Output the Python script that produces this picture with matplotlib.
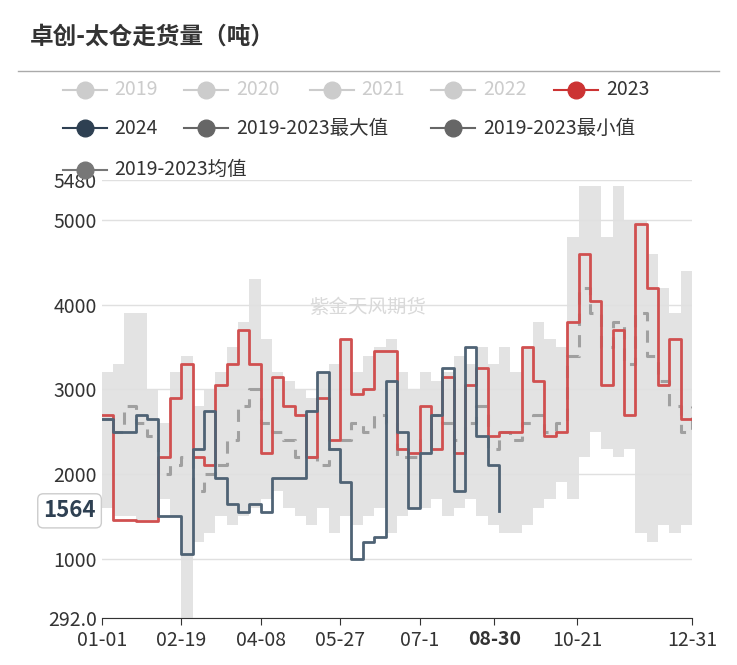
import matplotlib
matplotlib.use("Agg")
import matplotlib.pyplot as plt
import numpy as np

plt.rcParams["font.family"] = ["Noto Sans CJK SC"]

title = "卓创-太仓走货量（吨）"
tick_labels = ["01-01", "02-19", "04-08", "05-27", "07-1", "08-30", "10-21", "12-31"]
tick_days = [0, 49, 98, 147, 196, 242, 293, 364]
y_ticks = [292.0, 1000, 2000, 3000, 4000, 5000, 5480]

s2023 = [2700, 1450, 1450, 1440, 1440, 2200, 2900, 3300, 2200, 2100, 3050, 3300, 3700, 3300,
         2250, 3150, 2800, 2700, 2200, 2900, 2400, 3600, 2950, 3000, 3450, 3450, 2300, 2250,
         2800, 2300, 3150, 2250, 3050, 3250, 2450, 2500, 2500, 3500, 3100, 2450, 2500, 3800,
         4600, 4050, 3050, 3700, 2700, 4950, 4200, 3050, 3600, 2650, 2650]
s2024 = [2650, 2500, 2500, 2700, 2650, 1500, 1500, 1050, 2300, 2750, 1950, 1650, 1550, 1650,
         1550, 1950, 1950, 1950, 2750, 3200, 2300, 1900, 1000, 1200, 1250, 3100, 2500, 1600,
         2250, 2700, 3250, 1800, 3500, 2450, 2100, 1564]
smax = [3200, 3300, 3900, 3900, 3000, 2600, 3200, 3400, 2800, 3000, 3200, 3500, 3800, 4300,
        3600, 3200, 3100, 3000, 2900, 3200, 3300, 3600, 3200, 3400, 3500, 3600, 3200, 3000,
        3200, 3100, 3200, 3400, 3300, 3500, 3300, 3500, 3200, 3500, 3800, 3600, 3500, 4800,
        5400, 5400, 4800, 5400, 5000, 5000, 4600, 4200, 3900, 4400, 3900]
smin = [1600, 1500, 1500, 1450, 1450, 1700, 1500, 300, 1200, 1300, 1500, 1400, 1500, 1600,
        1700, 1800, 1600, 1500, 1400, 1600, 1300, 1500, 1400, 1500, 1600, 1300, 1500, 1600,
        1600, 1700, 1500, 1600, 1700, 1500, 1400, 1300, 1300, 1400, 1600, 1700, 1900, 1700,
        2200, 2500, 2300, 2200, 2300, 1300, 1200, 1400, 1300, 1400, 1300]
smean = [2650, 2500, 2800, 2600, 2450, 2000, 2100, 2200, 1800, 2000, 2100, 2400, 2800, 3000,
         2600, 2500, 2400, 2200, 2200, 2100, 2300, 2400, 2600, 2500, 2700, 2600, 2200, 2200,
         2400, 2700, 2600, 2400, 2600, 2800, 2300, 2500, 2400, 2600, 2700, 2500, 2600, 3400,
         4200, 3900, 3500, 3800, 3300, 3900, 3400, 3100, 2800, 2500, 2800]

days = np.arange(len(s2023)) * 7
d24 = np.arange(len(s2024)) * 7

fig = plt.figure(figsize=(7.37, 6.65), dpi=100)
ax = fig.add_axes([0.138, 0.07, 0.801, 0.66])
ax.fill_between(days, smin, smax, step="post", color="#e3e3e3", lw=0)
ax.step(days, smean, where="post", color="#a0a0a0", lw=2.2, ls=(0, (4, 3)))
ax.step(days, s2023, where="post", color="#d05050", lw=2, solid_joinstyle="round")
ax.step(d24, s2024, where="post", color="#4f6375", lw=2, solid_joinstyle="round")

ax.set_xlim(0, 364)
ax.set_ylim(292, 5480)
ax.set_yticks(y_ticks)
ax.set_yticklabels(["292.0", "1000", "2000", "3000", "4000", "5000", "5480"])
ax.set_xticks(tick_days)
ax.set_xticklabels(tick_labels)
for t in ax.get_xticklabels():
    if t.get_text() == "08-30":
        t.set_fontweight("bold"); t.set_color("#2e4052"); t.set_fontsize(17)
        t.set_bbox(dict(fc="white", ec="none", pad=1))
ax.tick_params(axis="both", labelsize=14, colors="#333333", length=5)
ax.tick_params(axis="y", length=0)
ax.grid(axis="y", color="#e0e0e0", lw=1)
for s in ["top", "right", "left"]:
    ax.spines[s].set_visible(False)
ax.spines["bottom"].set_color("#333333")
ax.text(-0.01, 1564, "1564", transform=ax.get_yaxis_transform(), ha="right", va="center",
        fontsize=16, fontweight="bold", color="#2e4052",
        bbox=dict(boxstyle="round,pad=0.25", fc="white", ec="#cccccc"))
ax.text(0.45, 3900, "紫金天风期货", transform=ax.get_yaxis_transform(), ha="center",
        fontsize=14, color="#d9d9d9")

fig.text(0.04, 0.935, title, fontsize=17, fontweight="bold", color="#333333")
fig.add_artist(plt.Line2D([0.025, 0.975], [0.893, 0.893], color="#aaaaaa", lw=1))

def leg(x, y, label, color, tc):
    fig.add_artist(plt.Line2D([x, x + 0.06], [y, y], color=color, lw=1.5))
    fig.add_artist(plt.Line2D([x + 0.03], [y], marker="o", ms=12, color=color))
    fig.text(x + 0.07, y, label, fontsize=14, color=tc, va="center")

g = "#cccccc"
leg(0.085, 0.865, "2019", g, g)
leg(0.25, 0.865, "2020", g, g)
leg(0.42, 0.865, "2021", g, g)
leg(0.585, 0.865, "2022", g, g)
leg(0.752, 0.865, "2023", "#cc3333", "#333333")
leg(0.085, 0.807, "2024", "#2e4052", "#333333")
leg(0.25, 0.807, "2019-2023最大值", "#666666", "#333333")
leg(0.585, 0.807, "2019-2023最小值", "#666666", "#333333")
leg(0.085, 0.745, "2019-2023均值", "#777777", "#333333")

fig.savefig("out.png", dpi=100)
